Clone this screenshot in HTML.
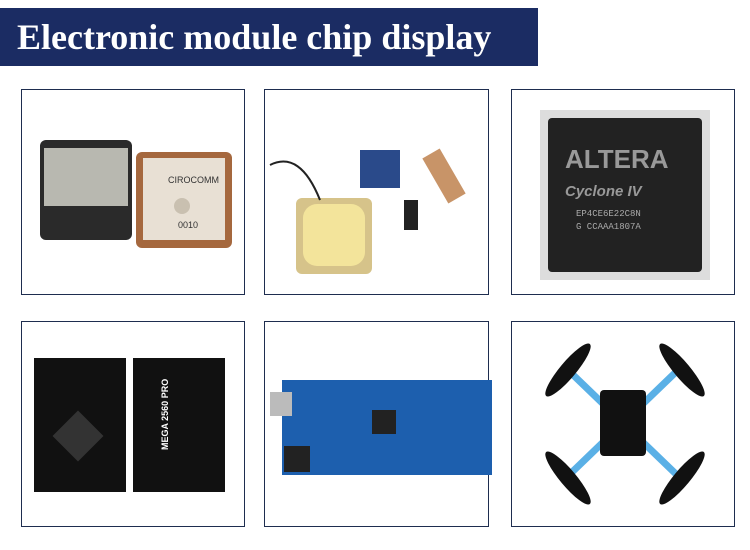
<!DOCTYPE html>
<html><head><style>
body{margin:0;width:750px;height:550px;background:#fff;position:relative;overflow:hidden}
.hd{position:absolute;left:0;top:8px;width:538px;height:58px;background:#1b2c63;color:#fff;font:bold 36px "Liberation Serif",serif;line-height:58px;padding-left:17px;box-sizing:border-box;white-space:nowrap}
.b{position:absolute;border:1.5px solid #1e2d4f;box-sizing:border-box;background:#fff}
svg{position:absolute;left:0;top:0}
</style></head><body>
<div class="hd">Electronic module chip display</div>
<div class="b" style="left:21px;top:89px;width:224px;height:206px"></div>
<div class="b" style="left:264px;top:89px;width:225px;height:206px"></div>
<div class="b" style="left:511px;top:89px;width:224px;height:206px"></div>
<div class="b" style="left:21px;top:321px;width:224px;height:206px"></div>
<div class="b" style="left:264px;top:321px;width:225px;height:206px"></div>
<div class="b" style="left:511px;top:321px;width:224px;height:206px"></div>
<svg width="750" height="550">
<rect x="40" y="140" width="92" height="100" rx="6" fill="#2a2a2a"/>
<rect x="44" y="148" width="84" height="58" fill="#b8b8b0"/>
<rect x="136" y="152" width="96" height="96" rx="6" fill="#a5683e"/>
<rect x="143" y="158" width="82" height="82" fill="#e8e0d4"/>
<circle cx="182" cy="206" r="8" fill="#c9c0b0"/>
<text x="168" y="183" font-family="Liberation Sans" font-size="9" fill="#333">CIROCOMM</text>
<text x="178" y="228" font-family="Liberation Sans" font-size="9" fill="#333">0010</text>
<rect x="296" y="198" width="76" height="76" rx="6" fill="#d6c38a"/>
<rect x="303" y="204" width="62" height="62" rx="14" fill="#f3e49b"/>
<rect x="360" y="150" width="40" height="38" fill="#2a4a8a"/>
<rect x="434" y="150" width="20" height="52" fill="#c89468" transform="rotate(-30 444 176)"/>
<path d="M270 165 Q300 150 320 200" stroke="#222" stroke-width="2" fill="none"/>
<rect x="404" y="200" width="14" height="30" fill="#222"/>
<rect x="540" y="110" width="170" height="170" fill="#ddd"/>
<rect x="548" y="118" width="154" height="154" rx="4" fill="#222"/>
<text x="565" y="168" font-family="Liberation Sans" font-weight="bold" font-size="26" fill="#999">ALTERA</text>
<text x="565" y="196" font-family="Liberation Sans" font-style="italic" font-weight="bold" font-size="15" fill="#999">Cyclone IV</text>
<text x="576" y="216" font-family="Liberation Mono" font-size="9" fill="#aaa">EP4CE6E22C8N</text>
<text x="576" y="229" font-family="Liberation Mono" font-size="9" fill="#aaa">G CCAAA1807A</text>
<rect x="34" y="358" width="92" height="134" fill="#111"/>
<rect x="133" y="358" width="92" height="134" fill="#111"/>
<rect x="60" y="418" width="36" height="36" fill="#333" transform="rotate(45 78 436)"/>
<text x="168" y="450" font-family="Liberation Sans" font-weight="bold" font-size="9" fill="#fff" transform="rotate(-90 168 450)">MEGA 2560 PRO</text>
<rect x="282" y="380" width="210" height="95" fill="#1d5fae"/>
<rect x="270" y="392" width="22" height="24" fill="#bbb"/>
<rect x="284" y="446" width="26" height="26" fill="#222"/>
<rect x="372" y="410" width="24" height="24" fill="#222"/>
<g stroke="#5ab0e6" stroke-width="7"><line x1="568" y1="370" x2="678" y2="476"/><line x1="678" y1="370" x2="568" y2="476"/></g>
<rect x="600" y="390" width="46" height="66" rx="4" fill="#111"/>
<g fill="#111">
<ellipse cx="568" cy="370" rx="34" ry="8" transform="rotate(-50 568 370)"/>
<ellipse cx="682" cy="370" rx="34" ry="8" transform="rotate(50 682 370)"/>
<ellipse cx="568" cy="478" rx="34" ry="8" transform="rotate(50 568 478)"/>
<ellipse cx="682" cy="478" rx="34" ry="8" transform="rotate(-50 682 478)"/>
</g>
</svg>
</body></html>
